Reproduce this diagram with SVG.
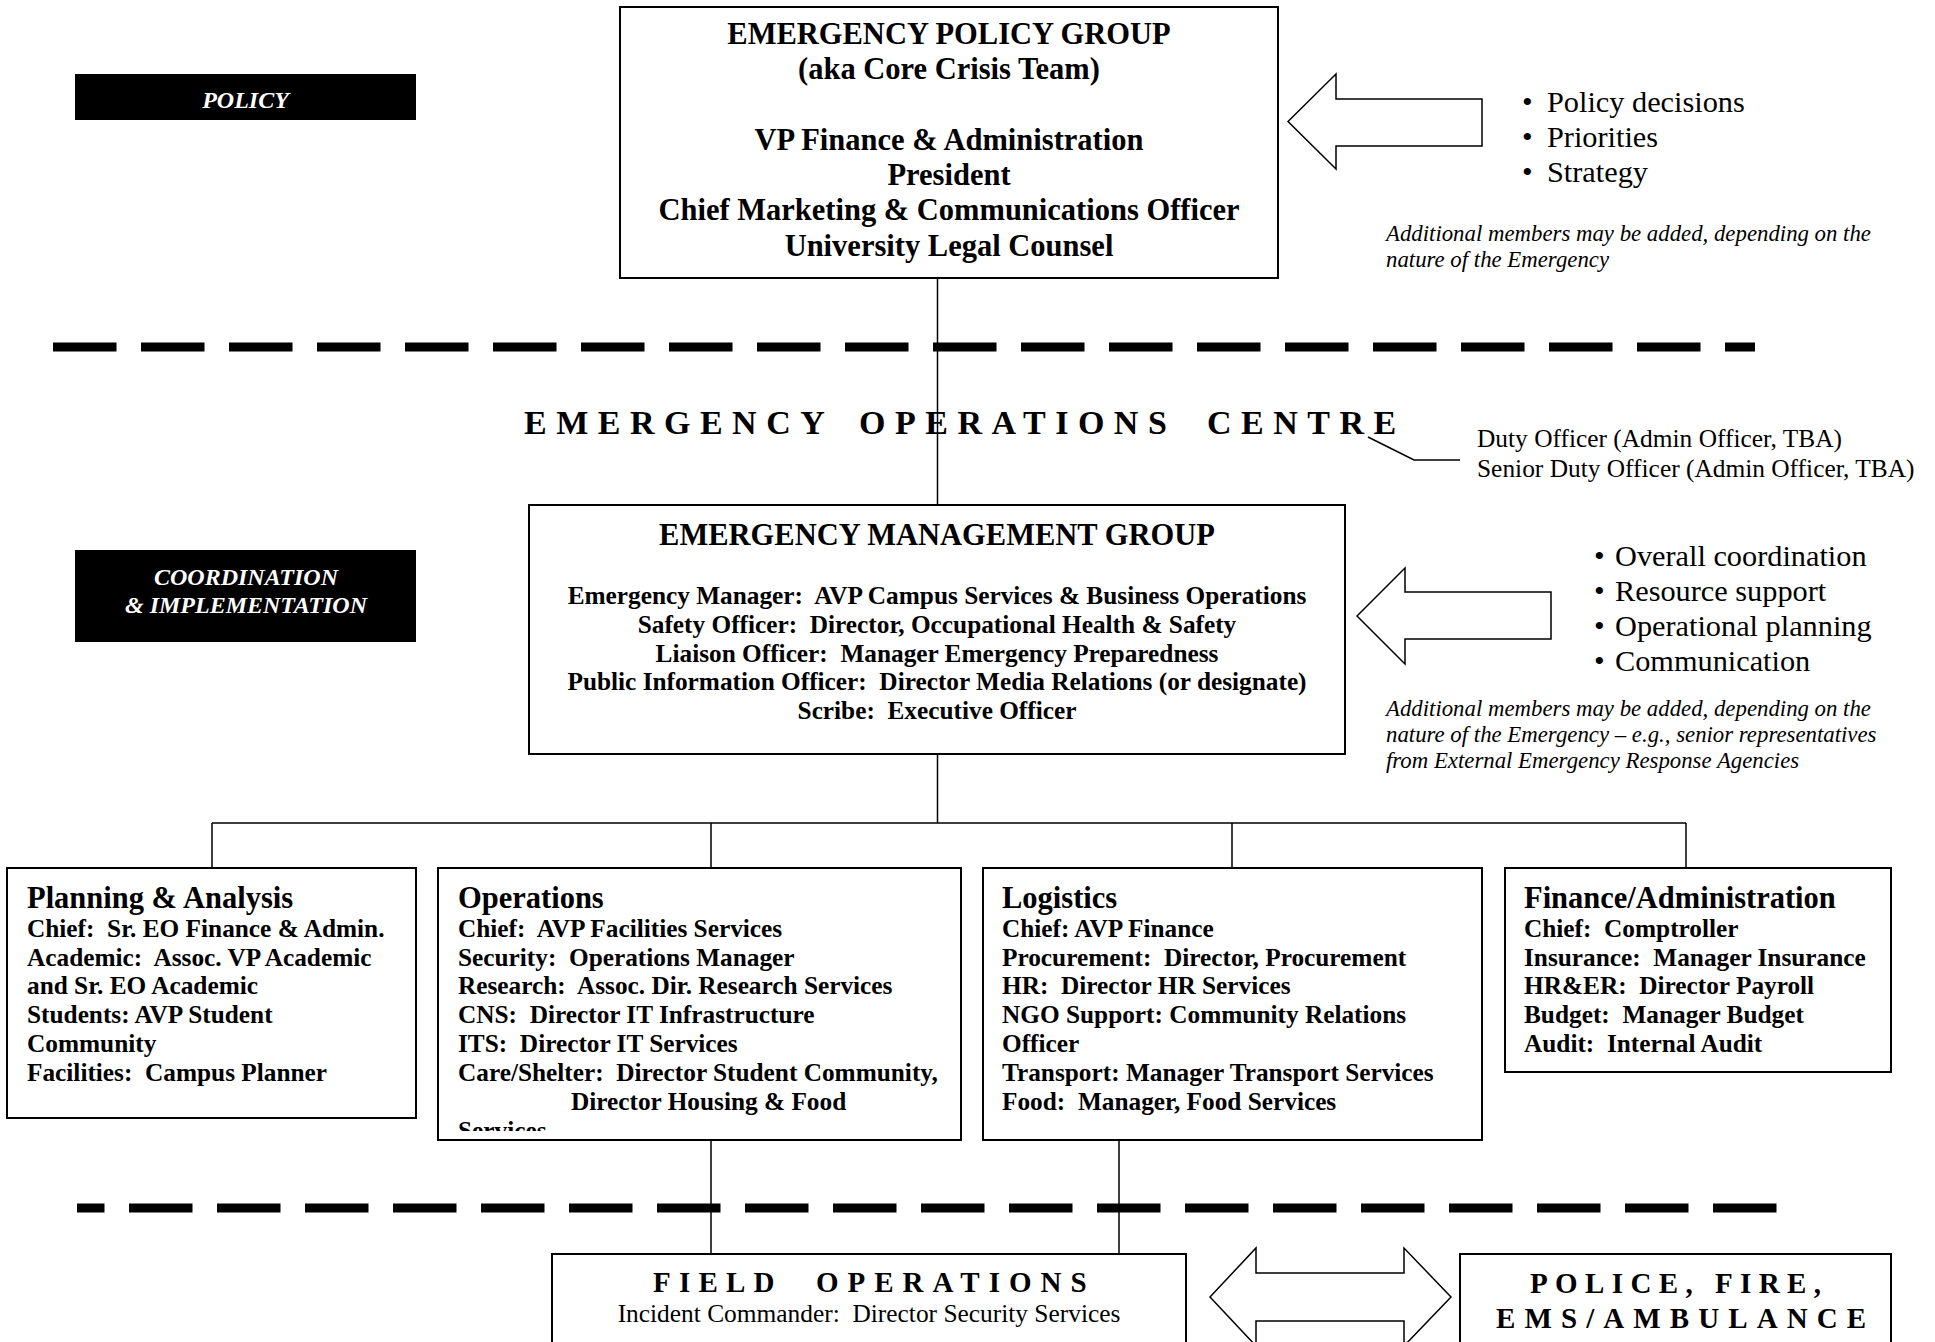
<svg xmlns="http://www.w3.org/2000/svg" width="1935" height="1342" viewBox="0 0 1935 1342" xml:space="preserve">
<style>
text{font-family:"Liberation Serif","Times New Roman",serif;fill:#000;white-space:pre}
.box{fill:#fff;stroke:#000;stroke-width:2}
.lbl{fill:#000}
.conn{stroke:#000;stroke-width:1.5;fill:none}
.dash{stroke:#000;stroke-width:9;stroke-dasharray:63.5 24.5;fill:none}
.arrow{fill:#fff;stroke:#000;stroke-width:1.5;stroke-linejoin:miter}
.h{font-size:30.5px;font-weight:bold}
.b{font-size:25.3px;font-weight:bold}
.r{font-size:25.4px}
.bul{font-size:30.3px}
.it{font-size:22.8px;font-style:italic}
.wbi{font-size:24px;font-weight:bold;font-style:italic;fill:#fff}
.sp34{font-size:34px;font-weight:bold;letter-spacing:9.5px}
.sp29{font-size:29px;font-weight:bold;letter-spacing:8.2px}
.c{text-anchor:middle}
</style>
<defs>
<clipPath id="opsClip"><rect x="438" y="868" width="523" height="263"/></clipPath>
</defs>
<g id="separators">
<line class="dash" x1="53" y1="347" x2="1755" y2="347"/>
<line class="dash" x1="77" y1="1208" x2="1777" y2="1208" stroke-dashoffset="36"/>
</g>
<g id="connectors">
<path class="conn" d="M937.5 278 V505"/>
<path class="conn" d="M937.5 754 V823 M212 823 H1686 M212 823 V868 M711 823 V868 M1232 823 V868 M1686 823 V868"/>
<path class="conn" d="M711 1140 V1254 M1119 1140 V1254"/>
<path class="conn" d="M1368 437 L1414 460 H1460"/>
</g>
<g id="policy-label">
<rect class="lbl" x="75" y="74" width="341" height="46"/>
<text class="wbi c" x="245.5" y="108">POLICY</text>
</g>
<g id="coordination-label">
<rect class="lbl" x="75" y="550" width="341" height="92"/>
<text class="wbi c" x="246" y="585">COORDINATION</text>
<text class="wbi c" x="246" y="613">&amp; IMPLEMENTATION</text>
</g>
<g id="emergency-policy-group">
<rect class="box" x="620" y="7" width="658" height="271"/>
<text class="h c" x="949" y="44">EMERGENCY POLICY GROUP</text>
<text class="h c" x="949" y="79">(aka Core Crisis Team)</text>
<text class="h c" x="949" y="150">VP Finance &amp; Administration</text>
<text class="h c" x="949" y="185">President</text>
<text class="h c" x="949" y="220">Chief Marketing &amp; Communications Officer</text>
<text class="h c" x="949" y="256">University Legal Counsel</text>
</g>
<g id="policy-arrow">
<polygon class="arrow" points="1288,121.5 1336,74 1336,99 1482,99 1482,146 1336,146 1336,169"/>
</g>
<g id="policy-bullets">
<text class="bul" x="1522" y="112">•<tspan x="1547">Policy decisions</tspan></text>
<text class="bul" x="1522" y="147">•<tspan x="1547">Priorities</tspan></text>
<text class="bul" x="1522" y="182">•<tspan x="1547">Strategy</tspan></text>
<text class="it" x="1386" y="241">Additional members may be added, depending on the</text>
<text class="it" x="1386" y="267">nature of the Emergency</text>
</g>
<g id="eoc-title">
<text class="sp34" y="434"><tspan x="524">EMERGENCY </tspan><tspan x="859">OPERATIONS </tspan><tspan x="1207">CENTRE</tspan></text>
</g>
<g id="duty-officers">
<text class="r" x="1477" y="447">Duty Officer (Admin Officer, TBA)</text>
<text class="r" x="1477" y="477">Senior Duty Officer (Admin Officer, TBA)</text>
</g>
<g id="emergency-management-group">
<rect class="box" x="529" y="505" width="816" height="249"/>
<text class="h c" x="937" y="545">EMERGENCY MANAGEMENT GROUP</text>
<text class="b c" x="937" y="604" xml:space="preserve">Emergency Manager:  AVP Campus Services &amp; Business Operations</text>
<text class="b c" x="937" y="633" xml:space="preserve">Safety Officer:  Director, Occupational Health &amp; Safety</text>
<text class="b c" x="937" y="662" xml:space="preserve">Liaison Officer:  Manager Emergency Preparedness</text>
<text class="b c" x="937" y="690" xml:space="preserve">Public Information Officer:  Director Media Relations (or designate)</text>
<text class="b c" x="937" y="719" xml:space="preserve">Scribe:  Executive Officer</text>
</g>
<g id="coordination-arrow">
<polygon class="arrow" points="1357,616 1405,568 1405,592 1551,592 1551,639 1405,639 1405,664"/>
</g>
<g id="coordination-bullets">
<text class="bul" x="1594" y="566">•<tspan x="1615">Overall coordination</tspan></text>
<text class="bul" x="1594" y="601">•<tspan x="1615">Resource support</tspan></text>
<text class="bul" x="1594" y="636">•<tspan x="1615">Operational planning</tspan></text>
<text class="bul" x="1594" y="671">•<tspan x="1615">Communication</tspan></text>
<text class="it" x="1386" y="716">Additional members may be added, depending on the</text>
<text class="it" x="1386" y="742">nature of the Emergency – e.g., senior representatives</text>
<text class="it" x="1386" y="768">from External Emergency Response Agencies</text>
</g>
<g id="planning-analysis">
<rect class="box" x="7" y="868" width="409" height="250"/>
<text class="h" x="27" y="908">Planning &amp; Analysis</text>
<text class="b" x="27" y="937" xml:space="preserve">Chief:  Sr. EO Finance &amp; Admin.</text>
<text class="b" x="27" y="966" xml:space="preserve">Academic:  Assoc. VP Academic</text>
<text class="b" x="27" y="994">and Sr. EO Academic</text>
<text class="b" x="27" y="1023">Students: AVP Student</text>
<text class="b" x="27" y="1052">Community</text>
<text class="b" x="27" y="1081" xml:space="preserve">Facilities:  Campus Planner</text>
</g>
<g id="operations">
<rect class="box" x="438" y="868" width="523" height="272"/>
<g clip-path="url(#opsClip)">
<text class="h" x="458" y="908">Operations</text>
<text class="b" x="458" y="937" xml:space="preserve">Chief:  AVP Facilities Services</text>
<text class="b" x="458" y="966" xml:space="preserve">Security:  Operations Manager</text>
<text class="b" x="458" y="994" xml:space="preserve">Research:  Assoc. Dir. Research Services</text>
<text class="b" x="458" y="1023" xml:space="preserve">CNS:  Director IT Infrastructure</text>
<text class="b" x="458" y="1052" xml:space="preserve">ITS:  Director IT Services</text>
<text class="b" x="458" y="1081" xml:space="preserve">Care/Shelter:  Director Student Community,</text>
<text class="b" x="571" y="1110">Director Housing &amp; Food</text>
<text class="b" x="458" y="1139">Services</text>
</g>
</g>
<g id="logistics">
<rect class="box" x="983" y="868" width="499" height="272"/>
<text class="h" x="1002" y="908">Logistics</text>
<text class="b" x="1002" y="937">Chief: AVP Finance</text>
<text class="b" x="1002" y="966" xml:space="preserve">Procurement:  Director, Procurement</text>
<text class="b" x="1002" y="994" xml:space="preserve">HR:  Director HR Services</text>
<text class="b" x="1002" y="1023">NGO Support: Community Relations</text>
<text class="b" x="1002" y="1052">Officer</text>
<text class="b" x="1002" y="1081">Transport: Manager Transport Services</text>
<text class="b" x="1002" y="1110" xml:space="preserve">Food:  Manager, Food Services</text>
</g>
<g id="finance-administration">
<rect class="box" x="1505" y="868" width="386" height="204"/>
<text class="h" x="1524" y="908">Finance/Administration</text>
<text class="b" x="1524" y="937" xml:space="preserve">Chief:  Comptroller</text>
<text class="b" x="1524" y="966" xml:space="preserve">Insurance:  Manager Insurance</text>
<text class="b" x="1524" y="994" xml:space="preserve">HR&amp;ER:  Director Payroll</text>
<text class="b" x="1524" y="1023" xml:space="preserve">Budget:  Manager Budget</text>
<text class="b" x="1524" y="1052" xml:space="preserve">Audit:  Internal Audit</text>
</g>
<g id="field-operations">
<rect class="box" x="552" y="1254" width="634" height="120"/>
<text class="sp29" y="1292"><tspan x="653">FIELD </tspan><tspan x="816" style="letter-spacing:9px">OPERATIONS</tspan></text>
<text class="r c" x="869" y="1322" xml:space="preserve">Incident Commander:  Director Security Services</text>
</g>
<g id="double-arrow">
<polygon class="arrow" points="1210,1297 1256,1248 1256,1273 1404,1273 1404,1248 1451,1297 1404,1346 1404,1321 1256,1321 1256,1346"/>
</g>
<g id="police-fire-ems">
<rect class="box" x="1460" y="1254" width="431" height="120"/>
<text class="sp29" x="1530" y="1293" style="letter-spacing:7.4px">POLICE, FIRE,</text>
<text class="sp29" x="1496" y="1328" style="letter-spacing:9.1px">EMS/AMBULANCE</text>
</g>
</svg>
